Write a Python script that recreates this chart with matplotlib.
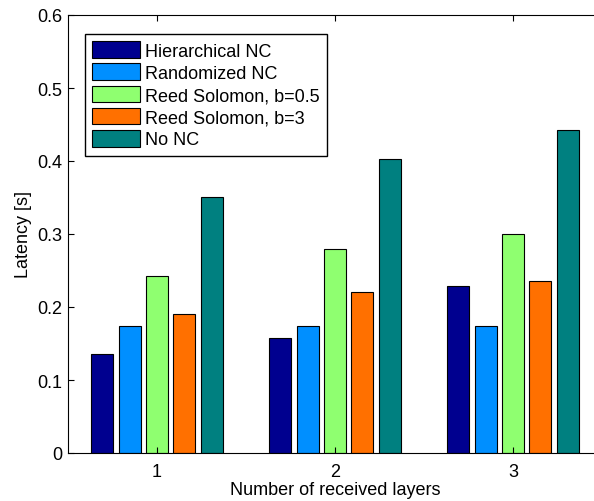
import numpy as np
import matplotlib.pyplot as plt

plt.rcParams['font.family'] = ['Liberation Sans', 'DejaVu Sans']

# latency per number of received layers
layers = [1, 2, 3]
series = ["Hierarchical NC", "Randomized NC", "Reed Solomon, b=0.5",
          "Reed Solomon, b=3", "No NC"]
hier_nc = [0.136, 0.157, 0.229]
rand_nc = [0.174, 0.174, 0.174]
rs_b05 = [0.242, 0.280, 0.300]
rs_b3 = [0.191, 0.221, 0.235]
no_nc = [0.351, 0.403, 0.443]

colors = [(0, 0, 0.5625), (0, 0.5625, 1), (0.5625, 1, 0.4375),
          (1, 0.4375, 0), (0, 0.5, 0.5)]

fig = plt.figure(figsize=(5.94, 5.02), dpi=100)
ax = fig.add_axes([68 / 594, 48 / 502, 534 / 594, 438 / 502])

x = np.array(layers, dtype=float)
slot = 0.769 / 5
w = slot * 0.8
for i, (vals, name, c) in enumerate(zip([hier_nc, rand_nc, rs_b05, rs_b3, no_nc],
                                        series, colors)):
    ax.bar(x + (i - 2) * slot, vals, width=w, color=c, edgecolor='black',
           linewidth=0.8, label=name)

ax.set_xlim(0.5, 3.5)
ax.set_ylim(0, 0.6)
ax.set_xticks(layers)
ax.set_yticks(np.arange(0, 0.61, 0.1))
ax.set_yticklabels(["0", "0.1", "0.2", "0.3", "0.4", "0.5", "0.6"])
ax.tick_params(direction='in', length=4, labelsize=13, top=True, right=True,
               pad=4)
ax.tick_params(axis='x', pad=7)
ax.set_xlabel("Number of received layers", fontsize=13, labelpad=1)
ax.set_ylabel("Latency [s]", fontsize=13, labelpad=4)

leg = ax.legend(loc='upper left', bbox_to_anchor=(85 / 594, 1 - 35 / 502),
                bbox_transform=fig.transFigure, fontsize=13, fancybox=False,
                framealpha=1, edgecolor='black', handlelength=2.65,
                handleheight=1.05, labelspacing=0.2, handletextpad=0.3,
                borderpad=0.4, borderaxespad=0)
leg.get_frame().set_linewidth(1.0)

fig.savefig("out.png", dpi=100)
